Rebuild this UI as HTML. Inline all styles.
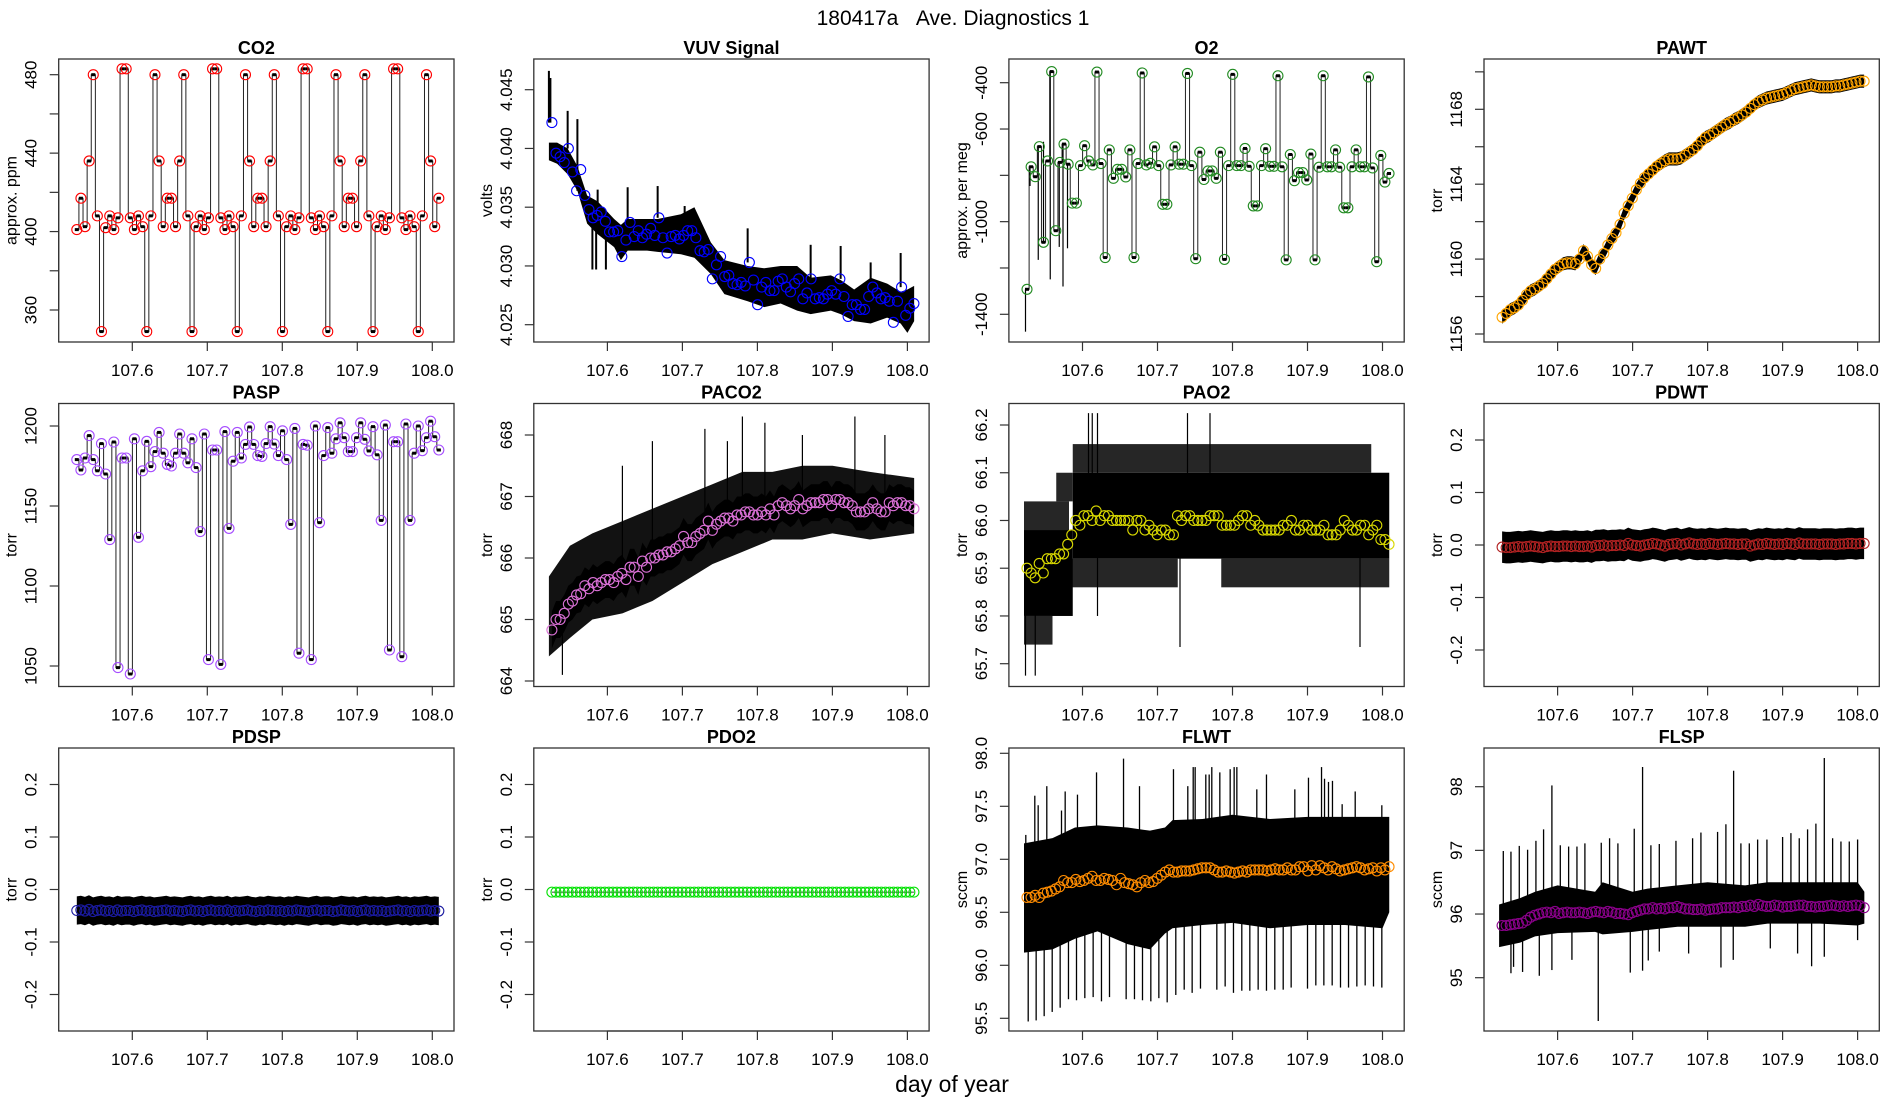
<!DOCTYPE html>
<html><head><meta charset="utf-8"><title>180417a Ave. Diagnostics 1</title>
<style>
html,body{margin:0;padding:0;background:#fff;}
svg{display:block;font-family:"Liberation Sans",Arial,sans-serif;}
</style></head>
<body>
<svg id="chart" width="1900" height="1100" viewBox="0 0 1900 1100" xmlns="http://www.w3.org/2000/svg">
<rect width="1900" height="1100" fill="#fff"/>
<text x="953" y="25" font-size="21" text-anchor="middle">180417a&#160;&#160;&#160;Ave. Diagnostics 1</text>
<text x="952" y="1092" font-size="23" text-anchor="middle">day of year</text>
</svg>
<script>
// ---- shared x axis ----
const xTicks = [107.6, 107.7, 107.8, 107.9, 108.0];
const xTickLabels = ['107.6', '107.7', '107.8', '107.9', '108.0'];
const avgStart = 107.526;
const avgEnd = 108.0087;

// ---- CO2 ----
const co2Vals = [401,417,402.5,436,480,408,349,402,408,401,407,483,483,407,401,408,402.5,349,408,480,436,402.5,417,417,402.5,436,480,408,349,402.5,408,401,407,483,483,407,401,408,402.5,349,408,480,436,402.5,417,417,402.5,436,480,408,349,402.5,408,401,407,483,483,407,401,408,402.5,349,408,480,436,402.5,417,417,402.5,436,480,408,349,402.5,408,401,407,483,483,407,401,408,402.5,349,408,480,436,402.5,417];
const co2Ticks = [360,380,400,420,440,460,480];
const co2TickLabels = ['360','','400','','440','','480'];

// ---- VUV ----
const vuvVals = [4.0422,4.0396,4.0393,4.0388,4.0400,4.0380,4.0364,4.0382,4.0360,4.0348,4.0341,4.0343,4.0346,4.0338,4.0329,4.0329,4.0330,4.0308,4.0322,4.0337,4.0325,4.0330,4.0324,4.0327,4.0332,4.0326,4.0341,4.0324,4.0311,4.0325,4.0326,4.0323,4.0326,4.0330,4.0330,4.0324,4.0313,4.0312,4.0314,4.0289,4.0301,4.0308,4.0291,4.0292,4.0285,4.0284,4.0286,4.0283,4.0303,4.0288,4.0267,4.0282,4.0286,4.0279,4.0279,4.0287,4.0289,4.0282,4.0278,4.0285,4.0289,4.0272,4.0277,4.0289,4.0272,4.0273,4.0272,4.0276,4.0279,4.0276,4.0289,4.0274,4.0257,4.0267,4.0267,4.0263,4.0263,4.0274,4.0282,4.0277,4.0272,4.0273,4.0270,4.0252,4.0270,4.0282,4.0258,4.0264,4.0268];
const vuvBandDays = [107.522,107.533,107.547,107.560,107.573,107.587,107.609,107.618,107.627,107.653,107.667,107.698,107.716,107.738,107.756,107.787,107.809,107.831,107.853,107.871,107.898,107.911,107.929,107.951,107.973,107.991,108.000,108.009];
const vuvBandHi = [4.0405,4.0405,4.0400,4.0385,4.0360,4.0355,4.0340,4.0335,4.0340,4.0340,4.0340,4.0344,4.0350,4.0320,4.0305,4.0300,4.0298,4.0300,4.0300,4.0290,4.0292,4.0288,4.0280,4.0290,4.0285,4.0278,4.0280,4.0283];
const vuvBandLo = [4.0390,4.0387,4.0378,4.0364,4.0336,4.0327,4.0316,4.0305,4.0313,4.0313,4.0312,4.0310,4.0307,4.0293,4.0276,4.0270,4.0265,4.0268,4.0262,4.0259,4.0262,4.0259,4.0253,4.0251,4.0256,4.0251,4.0243,4.0253];
const vuvSpikeDays = [107.522,107.524,107.547,107.560,107.587,107.627,107.667,107.703,107.787,107.871,107.911,107.951,107.991,107.580,107.585,107.598];
const vuvSpikeVals = [4.0466,4.0460,4.0432,4.0425,4.0365,4.0367,4.0368,4.0351,4.0332,4.0318,4.0317,4.0303,4.0311,4.0297,4.0297,4.0297];
const vuvTicks = [4.025,4.030,4.035,4.040,4.045];
const vuvTickLabels = ['4.025','4.030','4.035','4.040','4.045'];

// ---- O2 ----
const o2Vals = [-1292,-763,-806,-676,-1089,-738,-352,-1039,-744,-665,-752,-920,-920,-758,-672,-738,-755,-354,-749,-1155,-690,-813,-774,-774,-807,-690,-1155,-749,-358,-755,-748,-677,-758,-925,-925,-755,-677,-752,-752,-360,-758,-1160,-700,-818,-781,-781,-813,-700,-1163,-758,-364,-758,-758,-684,-761,-932,-932,-758,-685,-761,-761,-370,-763,-1165,-710,-823,-788,-788,-820,-708,-1165,-765,-370,-763,-763,-690,-765,-940,-940,-763,-690,-763,-763,-375,-768,-1173,-714,-829,-792];
const o2SpikeDays = [107.524,107.530,107.541,107.548,107.557,107.569,107.574,107.580];
const o2SpikeVals = [-1475,-846,-1165,-655,-1249,-1109,-1280,-1115];
const o2Ticks = [-1400,-1200,-1000,-800,-600,-400];
const o2TickLabels = ['-1400','','-1000','','-600','-400'];

// ---- PAWT ----
const pawtVals = [1156.9,1157.1,1157.3,1157.4,1157.55,1157.8,1158.1,1158.3,1158.4,1158.55,1158.7,1158.95,1159.2,1159.45,1159.6,1159.75,1159.8,1159.8,1159.75,1160.0,1160.45,1160.15,1159.7,1159.5,1160.0,1160.3,1160.75,1161.1,1161.4,1161.85,1162.45,1162.85,1163.25,1163.7,1164.05,1164.35,1164.55,1164.75,1164.95,1165.1,1165.25,1165.35,1165.35,1165.35,1165.4,1165.55,1165.7,1165.85,1166.05,1166.3,1166.5,1166.6,1166.75,1166.9,1167.05,1167.2,1167.3,1167.45,1167.55,1167.7,1167.85,1168.05,1168.25,1168.4,1168.5,1168.6,1168.65,1168.7,1168.75,1168.8,1168.9,1169.0,1169.1,1169.15,1169.2,1169.25,1169.3,1169.25,1169.2,1169.2,1169.2,1169.2,1169.25,1169.25,1169.3,1169.35,1169.4,1169.45,1169.5,1169.5];
const pawtNoise = 0.35;
const pawtTicks = [1156,1158,1160,1162,1164,1166,1168,1170];
const pawtTickLabels = ['1156','','1160','','1164','','1168',''];

// ---- PASP ----
const paspVals = [1179,1172.5,1180,1194,1179,1172,1189,1170,1129,1190,1049,1180,1180,1045,1192,1130.4,1172,1190.4,1174.6,1184,1196,1183,1176,1175,1183,1195,1183,1177,1192,1174,1134,1195,1054,1185,1185,1051,1196.5,1136,1178,1196,1180,1188.5,1199.4,1188.5,1181.5,1181,1189,1199.6,1188.7,1181.5,1197,1179,1138.5,1198.5,1058,1188.5,1188,1054,1200,1139.6,1181.5,1199,1183,1192,1202,1192.7,1184,1184,1192.7,1202,1191.7,1184.4,1199.6,1182,1141,1200.6,1060,1190.2,1190.2,1055.8,1201.25,1141,1183,1200,1184.6,1192.7,1203,1193.3,1185];
const paspTicks = [1050,1100,1150,1200];
const paspTickLabels = ['1050','1100','1150','1200'];

// ---- PACO2 ----
const paco2Vals = [664.83,665.0,665.0,665.1,665.25,665.3,665.4,665.42,665.55,665.5,665.6,665.55,665.6,665.65,665.65,665.6,665.7,665.75,665.65,665.85,665.85,665.7,665.95,665.85,666.0,666.0,666.05,666.05,666.1,666.1,666.15,666.2,666.35,666.25,666.25,666.35,666.4,666.45,666.6,666.45,666.55,666.6,666.65,666.65,666.6,666.7,666.7,666.75,666.75,666.7,666.7,666.75,666.7,666.8,666.7,666.85,666.9,666.85,666.8,666.85,666.95,666.8,666.85,666.9,666.9,666.9,666.95,666.95,666.85,666.95,666.95,666.9,666.9,666.85,666.75,666.75,666.75,666.8,666.9,666.8,666.75,666.75,666.9,666.85,666.9,666.9,666.85,666.85,666.8];
const paco2BandDays = [107.522,107.55,107.58,107.62,107.66,107.70,107.74,107.78,107.82,107.86,107.90,107.95,108.009];
const paco2BandHi = [665.7,666.2,666.4,666.6,666.8,667.0,667.2,667.4,667.4,667.5,667.5,667.4,667.3];
const paco2BandLo = [664.4,664.7,665.0,665.1,665.3,665.6,665.9,666.1,666.3,666.3,666.4,666.3,666.4];
const paco2SpikeDays = [107.54,107.62,107.66,107.73,107.76,107.78,107.81,107.86,107.93,107.97];
const paco2SpikeVals = [664.1,667.5,667.9,668.1,667.9,668.3,668.2,668.0,668.3,668.0];
const paco2Ticks = [664,665,666,667,668];
const paco2TickLabels = ['664','665','666','667','668'];

// ---- PAO2 ----
const pao2Vals = [65.9,65.89,65.88,65.91,65.89,65.92,65.92,65.92,65.93,65.93,65.95,65.97,66.0,65.99,66.01,66.01,66.0,66.02,66.0,66.01,66.01,66.0,66.0,66.0,66.0,66.0,65.98,66.0,66.0,65.98,65.99,65.98,65.97,65.98,65.98,65.97,65.97,66.01,66.0,66.01,66.01,66.0,66.0,66.0,66.0,66.01,66.01,66.01,65.99,65.99,65.99,65.99,66.0,66.01,66.01,65.99,66.0,65.99,65.98,65.98,65.98,65.98,65.98,65.99,65.99,66.0,65.98,65.98,65.99,65.99,65.98,65.98,65.98,65.99,65.97,65.97,65.97,65.98,66.0,65.99,65.98,65.98,65.99,65.99,65.97,65.98,65.99,65.96,65.96,65.95];
const pao2SolidStart = [107.522,107.587];
const pao2SolidEnd = [107.587,108.009];
const pao2SolidLo = [65.80,65.92];
const pao2SolidHi = [65.98,66.10];
const pao2HatchStart = [107.522,107.565,107.587,107.522,107.578,107.785];
const pao2HatchEnd = [107.582,107.587,107.985,107.560,107.727,108.009];
const pao2HatchLo = [65.98,66.04,66.10,65.74,65.86,65.86];
const pao2HatchHi = [66.04,66.10,66.16,65.80,65.92,65.92];
const pao2SpikeDays = [107.524,107.537,107.608,107.613,107.620,107.740,107.770,107.620,107.730,107.970];
const pao2SpikeVals = [65.675,65.675,66.225,66.225,66.225,66.225,66.225,65.80,65.735,65.735];
const pao2Ticks = [65.7,65.8,65.9,66.0,66.1,66.2];
const pao2TickLabels = ['65.7','65.8','65.9','66.0','66.1','66.2'];

// ---- PDWT ----
const pdwtVals = [-0.004,-0.005,-0.005,-0.004,-0.003,-0.004,-0.003,-0.002,-0.003,-0.004,-0.005,-0.003,-0.002,-0.003,-0.003,-0.002,-0.002,-0.003,-0.002,-0.003,-0.003,-0.002,-0.004,-0.001,-0.001,0.0,-0.002,-0.001,-0.001,0.0,-0.001,0.003,0.0,-0.001,-0.002,0.0,0.001,0.003,0.002,0.0,-0.002,0.001,0.002,0.003,0.0,0.002,0.004,0.002,0.001,0.002,0.001,0.003,0.002,0.001,0.002,0.003,0.002,0.002,0.001,0.002,0.002,-0.002,0.0,0.002,0.001,0.003,0.002,0.001,0.002,0.001,0.003,0.002,0.001,0.004,0.002,0.002,0.002,0.002,0.001,0.002,0.002,0.002,0.001,0.002,0.002,0.003,0.003,0.002,0.003,0.003];
const pdwtNoise = 0.03;
const pdTicks = [-0.2,-0.1,0,0.1,0.2];
const pdTickLabels = ['-0.2','-0.1','0.0','0.1','0.2'];

// ---- PDSP ----
const pdspVals = [-0.040,-0.039,-0.041,-0.038,-0.042,-0.040,-0.039,-0.041,-0.040,-0.042,-0.039,-0.041,-0.040,-0.040,-0.042,-0.040,-0.039,-0.041,-0.040,-0.042,-0.041,-0.040,-0.039,-0.041,-0.040,-0.041,-0.042,-0.040,-0.039,-0.041,-0.040,-0.042,-0.040,-0.039,-0.041,-0.040,-0.041,-0.039,-0.042,-0.040,-0.041,-0.040,-0.039,-0.041,-0.042,-0.040,-0.041,-0.039,-0.040,-0.041,-0.040,-0.042,-0.040,-0.041,-0.039,-0.040,-0.041,-0.042,-0.040,-0.039,-0.041,-0.040,-0.040,-0.042,-0.041,-0.039,-0.040,-0.041,-0.040,-0.042,-0.040,-0.039,-0.041,-0.040,-0.041,-0.040,-0.042,-0.041,-0.040,-0.039,-0.041,-0.040,-0.042,-0.040,-0.041,-0.040,-0.039,-0.041,-0.040,-0.041];
const pdspNoise = 0.027;

// ---- PDO2 ----
const pdo2Vals = new Array(90).fill(-0.005);

// ---- FLWT ----
const flwtVals = [96.64,96.64,96.66,96.64,96.68,96.69,96.7,96.72,96.74,96.8,96.78,96.78,96.81,96.79,96.8,96.82,96.84,96.8,96.8,96.82,96.81,96.8,96.76,96.82,96.78,96.77,96.76,96.74,96.78,96.8,96.78,96.79,96.82,96.85,96.88,96.9,96.88,96.88,96.89,96.89,96.89,96.9,96.91,96.92,96.92,96.92,96.9,96.88,96.88,96.89,96.88,96.87,96.88,96.89,96.88,96.9,96.9,96.9,96.9,96.89,96.9,96.91,96.9,96.9,96.92,96.9,96.9,96.93,96.93,96.89,96.94,96.9,96.94,96.92,96.9,96.93,96.91,96.89,96.9,96.91,96.92,96.93,96.92,96.9,96.91,96.92,96.89,96.92,96.9,96.93];
const flwtBandDays = [107.522,107.56,107.59,107.62,107.66,107.69,107.71,107.72,107.76,107.80,107.85,107.90,107.95,108.0,108.009];
const flwtBandHi = [97.15,97.2,97.3,97.32,97.3,97.27,97.3,97.37,97.38,97.42,97.38,97.4,97.4,97.4,97.4];
const flwtBandLo = [96.12,96.15,96.25,96.32,96.2,96.15,96.3,96.35,96.38,96.4,96.35,96.38,96.38,96.35,96.5];
const flwtSpikeDays = [107.5244,107.5364,107.5409,107.5524,107.572,107.5769,107.5933,107.6187,107.6547,107.676,107.7213,107.7404,107.7476,107.7502,107.7644,107.7689,107.7724,107.7831,107.7969,107.8022,107.8058,107.8324,107.8453,107.8831,107.9013,107.9187,107.9227,107.928,107.9333,107.9462,107.9636,107.9991,
 107.5276,107.5382,107.5489,107.5596,107.5702,107.5813,107.592,107.6031,107.6142,107.6253,107.636,107.6582,107.6693,107.68,107.6911,107.7018,107.7129,107.7244,107.7356,107.7462,107.7573,107.7791,107.7902,107.8013,107.8124,107.8231,107.8342,107.8453,107.8564,107.8676,107.8782,107.9,107.9111,107.9218,107.9329,107.944,107.9547,107.9658,107.9769,107.988,107.9991];
const flwtSpikeVals = [97.23,97.6,97.51,97.69,97.46,97.64,97.61,97.82,97.95,97.69,97.85,97.69,97.87,97.87,97.8,97.8,97.87,97.82,97.85,97.87,97.87,97.66,97.8,97.66,97.77,97.87,97.76,97.73,97.74,97.52,97.64,97.51,
 95.47,95.48,95.52,95.56,95.6,95.68,95.67,95.69,95.7,95.66,95.7,95.68,95.68,95.67,95.66,95.69,95.65,95.72,95.77,95.74,95.78,95.77,95.8,95.74,95.76,95.76,95.77,95.76,95.77,95.77,95.79,95.78,95.81,95.81,95.81,95.79,95.79,95.8,95.81,95.8,95.79];
const flwtTicks = [95.5,96.0,96.5,97.0,97.5,98.0];
const flwtTickLabels = ['95.5','96.0','96.5','97.0','97.5','98.0'];

// ---- FLSP ----
const flspVals = [95.82,95.82,95.83,95.84,95.85,95.86,95.9,95.95,95.98,96.0,96.02,96.03,96.02,96.04,96.01,96.02,96.03,96.02,96.02,96.03,96.02,96.01,96.03,96.04,96.03,96.02,96.04,96.03,96.01,96.01,96.0,95.99,96.02,96.04,96.06,96.08,96.08,96.1,96.08,96.09,96.08,96.1,96.1,96.12,96.1,96.08,96.08,96.07,96.07,96.08,96.06,96.07,96.08,96.08,96.1,96.1,96.1,96.11,96.1,96.12,96.12,96.14,96.12,96.15,96.13,96.12,96.12,96.14,96.13,96.11,96.12,96.12,96.13,96.14,96.14,96.12,96.12,96.11,96.12,96.12,96.13,96.14,96.13,96.12,96.13,96.12,96.13,96.14,96.13,96.1];
const flspBandDays = [107.522,107.55,107.57,107.60,107.65,107.66,107.70,107.72,107.76,107.80,107.85,107.88,107.95,108.0,108.009];
const flspBandHi = [96.15,96.25,96.35,96.45,96.35,96.5,96.35,96.4,96.45,96.5,96.45,96.5,96.5,96.5,96.35];
const flspBandLo = [95.48,95.55,95.65,95.7,95.72,95.68,95.72,95.75,95.8,95.8,95.8,95.85,95.85,95.82,95.85];
const flspSpikeDays = [107.5276,107.5378,107.5489,107.56,107.5711,107.5813,107.5924,107.6036,107.6147,107.6258,107.6364,107.6582,107.6693,107.6804,107.7022,107.7133,107.7244,107.7356,107.7578,107.78,107.7911,107.8133,107.8244,107.8347,107.8444,107.8556,107.8667,107.8791,107.9,107.9111,107.9222,107.9333,107.9444,107.9556,107.9667,107.9778,107.9889,108.0,
 107.5378,107.5413,107.5533,107.5756,107.5924,107.6191,107.6542,107.6969,107.7133,107.7209,107.7356,107.7747,107.8178,107.8342,107.8836,107.92,107.9387,107.9556,108.0];
const flspSpikeVals = [96.99,96.98,97.07,97.01,97.15,97.33,98.02,97.08,97.06,97.06,97.11,97.12,97.19,97.11,97.34,98.31,97.08,97.1,97.15,97.19,97.28,97.29,97.41,98.25,97.11,97.11,97.17,97.17,97.21,97.27,97.19,97.33,97.42,98.45,97.19,97.14,97.14,97.17,
 95.07,95.17,95.09,95.03,95.12,95.28,94.32,95.08,95.11,95.27,95.41,95.38,95.16,95.28,95.46,95.38,95.18,95.33,95.59];
const flspTicks = [95,96,97,98];
const flspTickLabels = ['95','96','97','98'];

// ================= rendering =================
const NS = 'http://www.w3.org/2000/svg';
const svg = document.getElementById('chart');
const PW = 395.3, PH = 283;
function mk(tag, parent, attrs) {
  const e = document.createElementNS(NS, tag);
  for (const k in attrs) e.setAttribute(k, attrs[k]);
  parent.appendChild(e);
  return e;
}
function slug(s) { return s.toLowerCase().replace(/[^a-z0-9]+/g, '-'); }

function makePanel(title, col, row, yTitle, ref, ticks, tickLabels) {
  const left = 58.7 + 475.1 * col, top = 59 + 344.5 * row;
  const g = mk('g', svg, {});
  
  
  const x = d => left + 73.6 + (d - 107.6) * 750;
  const y = v => top + ref[1] + (v - ref[0]) * (ref[3] - ref[1]) / (ref[2] - ref[0]);
  const clip = mk('clipPath', g, {id: 'clip-' + slug(title)});
  mk('rect', clip, {x: left, y: top, width: PW, height: PH});
  const data = mk('g', g, {'clip-path': 'url(#clip-' + slug(title) + ')'});
  
  
  const frame = mk('rect', g, {x: left, y: top, width: PW, height: PH, fill: 'none', stroke: '#333', 'stroke-width': 1.3});
  
  
  const t = mk('text', g, {x: left + PW / 2, y: top - 5, 'font-size': 18, 'font-weight': 'bold', 'text-anchor': 'middle'});
  t.textContent = title;
  
  
  const xa = mk('g', g, {});
  
  
  mk('line', xa, {x1: x(xTicks[0]), x2: x(xTicks[xTicks.length - 1]), y1: top + PH, y2: top + PH, stroke: '#333', 'stroke-width': 1.2});
  xTicks.forEach((d, i) => {
    mk('line', xa, {x1: x(d), x2: x(d), y1: top + PH, y2: top + PH + 9, stroke: '#333', 'stroke-width': 1.2});
    const lb = mk('text', xa, {x: x(d), y: top + PH + 34, 'font-size': 17, 'text-anchor': 'middle'});
    lb.textContent = xTickLabels[i];
    
    
  });
  const ya = mk('g', g, {});
  
  
  mk('line', ya, {x1: left, x2: left, y1: y(ticks[0]), y2: y(ticks[ticks.length - 1]), stroke: '#333', 'stroke-width': 1.2});
  ticks.forEach((v, i) => {
    mk('line', ya, {x1: left - 9, x2: left, y1: y(v), y2: y(v), stroke: '#333', 'stroke-width': 1.2});
    if (tickLabels[i]) {
      const lx = left - 22, ly = y(v);
      const lb = mk('text', ya, {x: lx, y: ly, 'font-size': 17, 'text-anchor': 'middle', transform: 'rotate(-90 ' + lx + ' ' + ly + ')'});
      lb.textContent = tickLabels[i];
      
      
    }
  });
  const tx = left - 42, ty = top + PH / 2;
  const yt = mk('text', g, {x: tx, y: ty, 'font-size': 16, 'text-anchor': 'middle', transform: 'rotate(-90 ' + tx + ' ' + ty + ')'});
  yt.textContent = yTitle;
  
  
  return {x, y, data, name: slug(title)};
}

function avgDays(vals) {
  const n = vals.length;
  return vals.map((v, i) => avgStart + (avgEnd - avgStart) * i / (n - 1));
}
function nearestVal(vals, d) {
  const n = vals.length;
  let i = Math.round((d - avgStart) / (avgEnd - avgStart) * (n - 1));
  i = Math.max(0, Math.min(n - 1, i));
  return vals[i];
}
function circles(p, vals, color) {
  const days = avgDays(vals);
  const g = mk('g', p.data, {fill: 'none', stroke: color, 'stroke-width': 1.1});
  
  
  vals.forEach((v, i) => {
    const c = mk('circle', g, {cx: p.x(days[i]), cy: p.y(v), r: 5});
    
    
  });
}
function stepLine(p, vals) {
  const days = avgDays(vals);
  let d = 'M' + p.x(days[0]) + ' ' + p.y(vals[0]);
  for (let i = 1; i < vals.length; i++) {
    const xn = p.x(days[i]);
    d += ' H' + (xn - 2) + ' V' + p.y(vals[i]) + ' H' + xn;
  }
  const path = mk('path', p.data, {d: d, fill: 'none', stroke: '#222', 'stroke-width': 1});
  
  
  const dots = mk('g', p.data, {fill: '#000'});
  
  
  vals.forEach((v, i) => {
    const r = mk('rect', dots, {x: p.x(days[i]) - 2, y: p.y(v) - 1.5, width: 4, height: 3});
    
    
  });
}
function envelope(p, days, hi, lo, opacity) {
  let pts = [];
  days.forEach((d, i) => pts.push(p.x(d) + ',' + p.y(hi[i])));
  for (let i = days.length - 1; i >= 0; i--) pts.push(p.x(days[i]) + ',' + p.y(lo[i]));
  const poly = mk('polygon', p.data, {points: pts.join(' '), fill: '#000', 'fill-opacity': opacity});
  
  
}
function noiseBand(p, vals, noise) {
  const days = avgDays(vals);
  const hi = vals.map(v => v + noise), lo = vals.map(v => v - noise);
  envelope(p, days, hi, lo, 1);
}
function spikes(p, days, vals, baseVals, width) {
  const g = mk('g', p.data, {stroke: '#000', 'stroke-width': width || 1.2});
  
  
  days.forEach((d, i) => {
    const l = mk('line', g, {x1: p.x(d), x2: p.x(d), y1: p.y(nearestVal(baseVals, d)), y2: p.y(vals[i])});
    
    
  });
}
function blocks(p, s, e, lo, hi, opacity, nm) {
  s.forEach((d, i) => {
    const r = mk('rect', p.data, {x: p.x(d), y: p.y(hi[i]), width: p.x(e[i]) - p.x(d), height: p.y(lo[i]) - p.y(hi[i]), fill: '#000', 'fill-opacity': opacity});
    
    
  });
}

let p = makePanel('CO2', 0, 0, 'approx. ppm', [480, 15.7, 360, 251], co2Ticks, co2TickLabels);
stepLine(p, co2Vals); circles(p, co2Vals, '#ff0000');
p = makePanel('VUV Signal', 1, 0, 'volts', [4.045, 30.7, 4.025, 265.7], vuvTicks, vuvTickLabels);
envelope(p, vuvBandDays, vuvBandHi, vuvBandLo, 1);
spikes(p, vuvSpikeDays, vuvSpikeVals, vuvVals, 2);
circles(p, vuvVals, '#0000ff');
p = makePanel('O2', 2, 0, 'approx. per meg', [-400, 23.7, -1400, 255.3], o2Ticks, o2TickLabels);
stepLine(p, o2Vals); spikes(p, o2SpikeDays, o2SpikeVals, o2Vals, 1.2);
circles(p, o2Vals, '#228b22');
p = makePanel('PAWT', 3, 0, 'torr', [1168, 50.3, 1156, 275], pawtTicks, pawtTickLabels);
noiseBand(p, pawtVals, pawtNoise); circles(p, pawtVals, '#ffa500');
p = makePanel('PASP', 0, 1, 'torr', [1200, 22.5, 1050, 262.5], paspTicks, paspTickLabels);
stepLine(p, paspVals); circles(p, paspVals, '#a64dff');
p = makePanel('PACO2', 1, 1, 'torr', [668, 31.5, 664, 277.5], paco2Ticks, paco2TickLabels);
envelope(p, paco2BandDays, paco2BandHi, paco2BandLo, 0.93);
noiseBand(p, paco2Vals, 0.3);
spikes(p, paco2SpikeDays, paco2SpikeVals, paco2Vals, 1.2);
circles(p, paco2Vals, '#da70d6');
p = makePanel('PAO2', 2, 1, 'torr', [66.2, 21.5, 65.7, 260.2], pao2Ticks, pao2TickLabels);
blocks(p, pao2HatchStart, pao2HatchEnd, pao2HatchLo, pao2HatchHi, 0.85, 'raw-hatch');
blocks(p, pao2SolidStart, pao2SolidEnd, pao2SolidLo, pao2SolidHi, 1, 'raw-block');
spikes(p, pao2SpikeDays, pao2SpikeVals, pao2Vals, 1.2);
circles(p, pao2Vals, '#d8d800');
p = makePanel('PDWT', 3, 1, 'torr', [0.2, 36.5, -0.2, 246.5], pdTicks, pdTickLabels);
noiseBand(p, pdwtVals, pdwtNoise); circles(p, pdwtVals, '#b22222');
p = makePanel('PDSP', 0, 2, 'torr', [0.2, 36.5, -0.2, 246.5], pdTicks, pdTickLabels);
noiseBand(p, pdspVals, pdspNoise); circles(p, pdspVals, '#1a1aa0');
p = makePanel('PDO2', 1, 2, 'torr', [0.2, 36.5, -0.2, 246.5], pdTicks, pdTickLabels);
noiseBand(p, pdo2Vals, 0.0008); circles(p, pdo2Vals, '#00e000');
p = makePanel('FLWT', 2, 2, 'sccm', [98, 5.3, 95.5, 270.3], flwtTicks, flwtTickLabels);
envelope(p, flwtBandDays, flwtBandHi, flwtBandLo, 1);
spikes(p, flwtSpikeDays, flwtSpikeVals, flwtVals, 1.3);
circles(p, flwtVals, '#ff8c00');
p = makePanel('FLSP', 3, 2, 'sccm', [98, 38.7, 95, 229.7], flspTicks, flspTickLabels);
envelope(p, flspBandDays, flspBandHi, flspBandLo, 1);
spikes(p, flspSpikeDays, flspSpikeVals, flspVals, 1.3);
circles(p, flspVals, '#8b008b');
</script>
</body></html>
